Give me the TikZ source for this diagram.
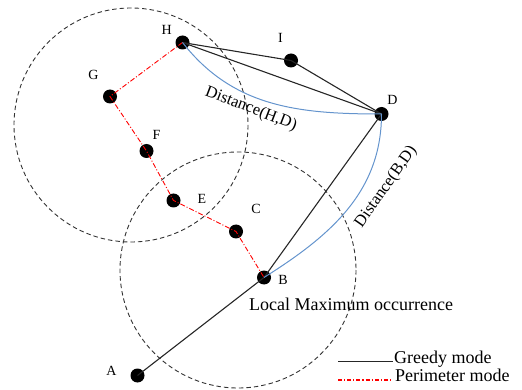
\documentclass[tikz,border=0pt]{standalone}
\usepackage{fontspec}
\setmainfont{Liberation Serif}
\begin{document}
\begin{tikzpicture}[x=1pt,y=-1pt,
  dot/.style={circle,fill=black,inner sep=0pt,minimum size=14pt},
  lbl/.style={inner sep=0pt,font=\fontsize{14}{14}\selectfont},
  radiorange/.style={draw=black!80,dashed,dash pattern=on 4.5pt off 3pt,line width=0.9pt},
  greedy/.style={draw=black!85,line width=1.1pt},
  perim/.style={draw=red,line width=0.9pt,dash pattern=on 5pt off 2pt on 1pt off 2pt},
  dist/.style={draw=distblue,line width=1pt},
  dlabel/.style={inner sep=0pt,font=\fontsize{16.5}{16.5}\selectfont},
  big/.style={inner sep=0pt,font=\fontsize{18}{18}\selectfont}]
\definecolor{distblue}{RGB}{100,148,205}
\useasboundingbox (0,0) rectangle (522,390);

% radio ranges
\draw[radiorange] (131,125) circle (117);
\draw[radiorange] (238,270) circle (118);

% sensor nodes
\node[dot] (H) at (182.5,42.5) {};
\node[dot] (G) at (110,96.5) {};
\node[dot] (F) at (146.5,151) {};
\node[dot] (E) at (173.5,200.5) {};
\node[dot] (C) at (236,231.5) {};
\node[dot] (B) at (264,277.5) {};
\node[dot] (A) at (137.5,375.5) {};
\node[dot] (I) at (291,60.5) {};
\node[dot] (D) at (381.5,114) {};

% node labels
\node[lbl] (lH) at (166.7,29.7) {H};
\node[lbl] (lG) at (93.5,74.5) {G};
\node[lbl] (lF) at (156.5,134.5) {F};
\node[lbl] (lE) at (202,198.5) {E};
\node[lbl] (lC) at (256,209) {C};
\node[lbl] (lB) at (283,280) {B};
\node[lbl] (lA) at (111.5,371) {A};
\node[lbl] (lI) at (280.5,37.5) {I};
\node[lbl] (lD) at (392.5,99.5) {D};

% greedy forwarding
\draw[greedy] (A.center) -- (B.center) -- (D.center);
\draw[greedy] (H.center) -- (I.center) -- (D.center);
\draw[greedy] (H.center) -- (D.center);

% perimeter forwarding
\draw[perim] (H.center) -- (G.center) -- (F.center) -- (E.center) -- (C.center) -- (B.center);

% distances to D
\draw[dist] (H.center) .. controls (233,107) and (298,114) .. (D.center);
\draw[dist] (B.center) .. controls (330,236) and (381.5,192) .. (D.center);
\node[dlabel,rotate=-21] (dHD) at (251,109) {Distance(H,D)};
\node[dlabel,rotate=55] (dBD) at (386,187) {Distance(B,D)};

\node[big,anchor=base west] (lm) at (249,310) {Local Maximum occurrence};

% legend
\coordinate (g1) at (338,361);
\coordinate (g2) at (393,361);
\coordinate (p1) at (338,380);
\coordinate (p2) at (393,380);
\draw[greedy,line width=0.9pt] (g1) -- (g2);
\draw[perim,line width=1.2pt,dash pattern=on 4pt off 2pt on 1.2pt off 2pt] (p1) -- (p2);
\node[big,anchor=base west] (lg) at (394,363.5) {Greedy mode};
\node[big,anchor=base west] (lp) at (395,381.5) {Perimeter mode};
\end{tikzpicture}
\end{document}
